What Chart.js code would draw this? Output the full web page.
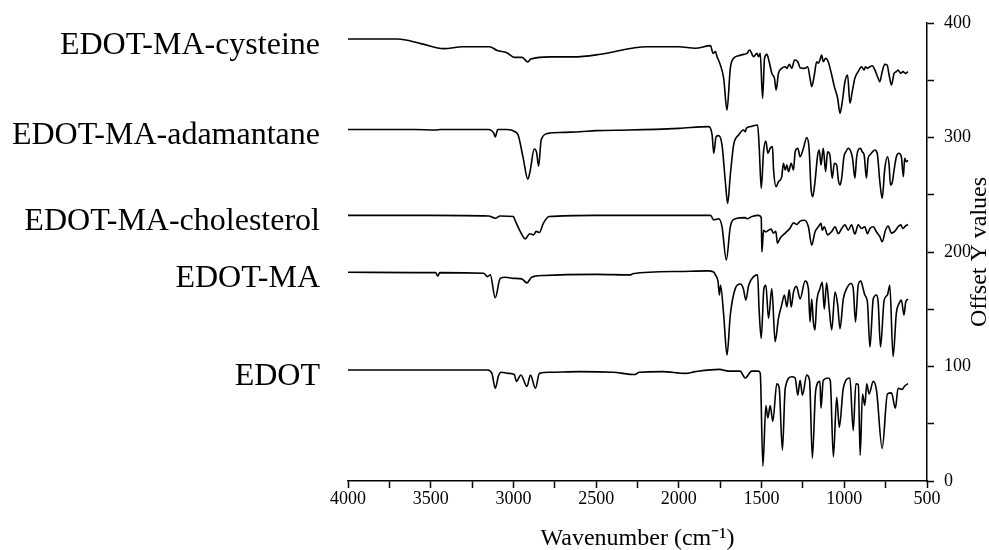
<!DOCTYPE html>
<html>
<head>
<meta charset="utf-8">
<script src="https://cdn.jsdelivr.net/npm/chart.js@4.4.1/dist/chart.umd.min.js"></script>
<style>
html,body{margin:0;padding:0;background:#fff;}
#wrap{width:989px;height:550px;}
</style>
</head>
<body>
<div id="wrap"><canvas id="c" width="989" height="550"></canvas></div>
<script>
// ---- Data (wavenumber in cm-1, offset intensity) ----
const seriesNames = ["EDOT-MA-cysteine", "EDOT-MA-adamantane", "EDOT-MA-cholesterol", "EDOT-MA", "EDOT"];

const cysteineWn = [4000,3700,3560,3420,3307,3145,3098,3040,2994,2948,2913,2895,2774,2635,2473,2195,2000,1900,1809,1793,1779,1769,1749,1729,1709,1689,1669,1639,1609,1588,1572,1548,1528,1518,1508,1494,1482,1468,1454,1438,1422,1412,1398,1378,1357,1347,1333,1317,1301,1281,1267,1241,1221,1207,1197,1181,1167,1157,1147,1137,1127,1113,1097,1076,1060,1040,1026,1012,996,980,966,952,936,916,896,880,872,860,845,831,815,799,785,771,755,741,729,715,699,685,675,659,645,631,615];
const cysteineVal = [386,386,382,377.6,379.3,379.3,376,374,370,370,366,368.5,370.4,370.4,372.7,379.3,379.3,378,380.2,373.5,375,370.6,363.3,351.7,324,360.4,369.2,371.5,372.6,373.5,376.4,370.6,373.5,370.6,373.5,334.2,369.2,372.6,366.2,356,351.7,341.5,356,360.4,361.8,360.4,363.9,360.4,367.7,366.2,361,360.4,361.8,351.7,344.4,354.6,366.2,364.8,367.7,372,366.2,369.2,366.2,354.6,344.4,334.2,321.1,331.3,348.7,354.6,329.9,340,351.7,357.5,361.8,359,361.8,360.4,361.8,362.7,359,353.1,348.7,357.5,363.9,363.3,354.6,345.9,356,357.5,359,356,357.5,356,357.5];

const adamantaneWn = [4000,3600,3470,3440,3150,3120,3110,3095,3040,2990,2971,2941,2913,2900,2874,2860,2848,2832,2790,2700,2600,2500,2300,2000,1819,1799,1789,1775,1759,1739,1719,1705,1689,1669,1639,1609,1598,1592,1568,1548,1524,1514,1502,1488,1474,1462,1448,1434,1428,1412,1398,1378,1368,1357,1347,1337,1321,1307,1297,1281,1267,1247,1227,1213,1201,1191,1177,1161,1151,1141,1127,1113,1101,1087,1073,1060,1046,1036,1026,1016,1002,990,976,960,950,936,926,916,902,892,880,866,856,845,829,815,801,785,771,755,739,729,721,709,699,685,671,655,643,635,625,615];
const adamantaneVal = [307,307,306.5,307,307,304,300.5,307,307,305,302,282,263.5,270,290,287,275,298,303.6,304.5,305,306,306.5,308,309.5,302.2,286.2,300.7,301.6,293.4,261.4,242.5,267.2,293.4,302.2,306.6,305,308,309.5,310.3,310.9,290.6,255.6,287.6,297,286.2,290.6,292,273,257,261.4,265.8,277.5,271.6,276,270.1,277.5,271.6,287.6,290.6,283.2,290.6,299.9,290.6,255.6,248.3,261.4,284.7,289.1,276,290.6,270.1,287.6,284.7,264.4,277.5,276,262.9,258.5,264.4,283.2,287.6,290.6,287.6,281.8,264.4,281.8,289.1,290.6,287.6,284.7,264.4,281.8,284.7,287.6,289.1,286.2,261.4,246.9,273,283.2,276,258.5,261.4,271.6,283.2,286.2,283.2,265.8,281.8,278.9,280];

const cholesterolWn = [4000,3500,3150,3110,3080,3000,2994,2959,2929,2901,2878,2862,2843,2820,2785,2500,2000,1809,1789,1775,1759,1739,1713,1689,1659,1598,1588,1558,1518,1502,1498,1488,1474,1458,1442,1428,1414,1404,1388,1357,1327,1307,1287,1267,1241,1217,1197,1177,1157,1141,1133,1121,1101,1076,1056,1036,1016,996,976,956,936,916,896,876,860,845,825,805,785,771,751,735,715,695,675,659,645,631,615];
const cholesterolVal = [232,232,231.5,229.5,231.5,231,229,218,211.5,216,215,218,217,224.8,231,232,232,232,228,228.5,229,222,193,222,229,230,229,231,232,230,200,219,217.5,219,220,216.5,218,207.6,212,216.5,221,225.4,224,227,227.7,222,206,217.5,222,225,219,222,215,218,222,216,220.5,223.7,219,223.7,215.7,223.7,220.5,222,216,220.5,222,217.5,213.4,209,219,222.7,216.5,218,222,223.7,220.5,222.7,224];

const edotmaWn = [4000,3600,3470,3458,3445,3180,3157,3140,3110,3080,3050,3000,2950,2918,2890,2820,2500,2290,2280,2000,1825,1790,1779,1763,1755,1748,1729,1709,1689,1659,1629,1610,1595,1578,1548,1524,1515,1502,1486,1474,1458,1438,1418,1398,1378,1362,1347,1333,1321,1307,1289,1267,1237,1217,1207,1197,1187,1177,1167,1147,1133,1121,1107,1092,1076,1056,1040,1026,1006,986,960,946,932,916,900,886,876,860,845,825,805,795,781,759,739,725,705,685,669,655,639,629,615];
const edotmaVal = [182.3,182,182,179,182,181.5,178.5,180,160,177,178,177,176.5,173,178,179.5,180.5,180,181,183,183.5,182.5,180,174,162.5,171,145,110,145,168,172,168,158,171,178.5,180,150,124.6,168,171,142,168,121.7,142,154,162.5,152,167,152,165,170,159,174.7,168,139,159,139,132,156,168,173.5,150,173,152,132,165,154,133,159,168,172.5,168,139,171,174.7,168,162.5,156,117,159,162.5,156,117,158,162.5,171,108.6,147,155,158,145,156,159];

const edotWn = [4000,3500,3157,3130,3110,3090,3075,3030,2995,2982,2955,2918,2897,2867,2843,2780,2600,2400,2265,2240,2100,1960,1900,1754,1700,1630,1598,1560,1518,1508,1492,1474,1462,1448,1432,1408,1394,1374,1357,1317,1297,1281,1267,1253,1227,1210,1193,1173,1147,1141,1127,1097,1085,1066,1046,1030,1006,966,946,930,915,904,890,876,864,850,825,805,771,739,715,691,675,651,635,615];
const edotVal = [97,97,97,94,81,92,95,94,93,87,92.6,82.6,92.6,81,94,95,95.5,95,93,95,95.5,94,95.5,97.5,96,96,90,96,96,94,13,66,55,66,52,85,82,27,81,91,90,75,88,75,92.5,88,20,79,87,63.5,88,90,88,21,73,47,81,90,44,85,84,22.5,76,66,85,76,87,79,28.5,76,77,63.5,81,80,83,85];

const xTicksMajor = [4000,3500,3000,2500,2000,1500,1000,500];
const yTicksMajor = [0,100,200,300,400];
const xTitle = "Wavenumber (cm\u207B\u00B9)";
const yTitle = "Offset Y values";

const wnList = [cysteineWn, adamantaneWn, cholesterolWn, edotmaWn, edotWn];
const valList = [cysteineVal, adamantaneVal, cholesterolVal, edotmaVal, edotVal];

const SERIF = "'Liberation Serif','Times New Roman',serif";

const datasets = seriesNames.map((name, k) => ({
  label: name,
  data: wnList[k].map((w, i) => ({x: w, y: valList[k][i]})),
  showLine: true,
  borderColor: '#000',
  borderWidth: 1.6,
  pointRadius: 0,
  fill: false,
  cubicInterpolationMode: 'monotone'
}));

const sideLabels = {
  id: 'sideLabels',
  afterDraw(chart) {
    const ctx = chart.ctx;
    const y = chart.scales.y;
    const area = chart.chartArea;
    ctx.save();
    ctx.fillStyle = '#000';
    ctx.font = "32px " + SERIF;
    ctx.textAlign = 'right';
    ctx.textBaseline = 'alphabetic';
    seriesNames.forEach((name, k) => {
      const py = y.getPixelForValue(valList[k][0]);
      ctx.fillText(name, area.left - 28, py + 15);
    });
    // rotated y title (reads bottom to top)
    ctx.font = "24px " + SERIF;
    ctx.textAlign = 'center';
    ctx.textBaseline = 'middle';
    ctx.translate(980, (area.top + area.bottom) / 2);
    ctx.rotate(-Math.PI / 2);
    ctx.fillText(yTitle, 0, 0);
    ctx.restore();
  }
};

new Chart(document.getElementById('c'), {
  type: 'scatter',
  data: {datasets},
  options: {
    responsive: false,
    animation: false,
    layout: {padding: {left: 348, top: 23, right: 0, bottom: 0}},
    plugins: {legend: {display: false}, tooltip: {enabled: false}},
    scales: {
      x: {
        type: 'linear', reverse: true, min: 500, max: 4000,
        ticks: {
          stepSize: 250, autoSkip: false, maxRotation: 0, color: '#000', padding: 0,
          font: {family: SERIF, size: 18},
          callback: v => xTicksMajor.includes(v) ? String(v) : ''
        },
        grid: {drawOnChartArea: false, drawTicks: true, tickLength: 7, color: '#000', tickWidth: 1.5},
        border: {display: true, color: '#000', width: 1.5},
        title: {display: true, text: xTitle, color: '#000', font: {family: SERIF, size: 24}, padding: {top: 4, bottom: -3}},
        afterFit: s => { s.height = 69; }
      },
      y: {
        position: 'right', min: 0, max: 400,
        ticks: {
          stepSize: 50, autoSkip: false, color: '#000', padding: 10,
          font: {family: SERIF, size: 18},
          callback: v => yTicksMajor.includes(v) ? String(v) : ''
        },
        grid: {drawOnChartArea: false, drawTicks: true, tickLength: 7, color: '#000', tickWidth: 1.5},
        border: {display: true, color: '#000', width: 1.5},
        afterFit: s => { s.width = 62; }
      }
    }
  },
  plugins: [sideLabels]
});
</script>
</body>
</html>
